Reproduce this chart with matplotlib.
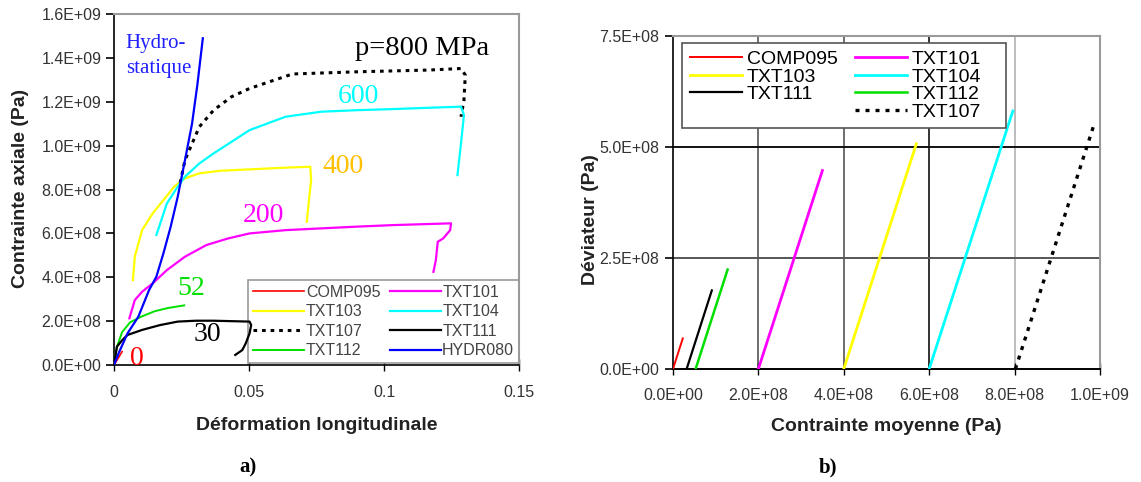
import numpy as np
import matplotlib
matplotlib.use('Agg')
import matplotlib.pyplot as plt
from matplotlib.lines import Line2D
from matplotlib.patches import Rectangle

plt.rcParams['font.family'] = ['Liberation Sans', 'DejaVu Sans']

# ---- (a) axial stress vs longitudinal strain
comp095_x = [0, 0.0015, 0.003]
comp095_y = [0, 3.0e7, 6.1e7]

txt111_x = [0, 0.0011, 0.0031, 0.005, 0.0104, 0.017, 0.0236, 0.0303, 0.0369, 0.0435, 0.0502, 0.0508, 0.0502, 0.0488, 0.0475, 0.0449]
txt111_y = [0, 8.4e7, 1.14e8, 1.37e8, 1.60e8, 1.82e8, 1.98e8, 2.02e8, 2.02e8, 2.00e8, 1.98e8, 1.82e8, 1.44e8, 9.9e7, 6.8e7, 4.6e7]

txt112_x = [0, 0.001, 0.003, 0.006, 0.010, 0.015, 0.020, 0.026]
txt112_y = [0, 8.0e7, 1.5e8, 1.95e8, 2.2e8, 2.45e8, 2.6e8, 2.72e8]

txt101_x = [0.0057, 0.0077, 0.0104, 0.0143, 0.0196, 0.0263, 0.0342, 0.0422, 0.0502, 0.0635, 0.0767, 0.0900, 0.1033, 0.1166, 0.1248, 0.1245, 0.1219, 0.1199, 0.1192, 0.1183]
txt101_y = [2.13e8, 2.96e8, 3.34e8, 3.72e8, 4.33e8, 4.94e8, 5.47e8, 5.77e8, 6.00e8, 6.15e8, 6.23e8, 6.31e8, 6.38e8, 6.43e8, 6.46e8, 6.15e8, 5.77e8, 5.62e8, 4.79e8, 4.25e8]

txt103_x = [0.0070, 0.0077, 0.0104, 0.0143, 0.0183, 0.0223, 0.0263, 0.0316, 0.0396, 0.0502, 0.0635, 0.0727, 0.0730, 0.0722, 0.0714]
txt103_y = [3.87e8, 4.94e8, 6.15e8, 6.91e8, 7.52e8, 8.13e8, 8.51e8, 8.74e8, 8.86e8, 8.92e8, 9.00e8, 9.04e8, 8.43e8, 7.52e8, 6.53e8]

txt104_x = [0.0157, 0.0196, 0.0236, 0.0263, 0.0316, 0.0369, 0.0502, 0.0635, 0.0767, 0.0900, 0.1033, 0.1166, 0.1285, 0.1296, 0.1285, 0.1272]
txt104_y = [5.93e8, 7.37e8, 8.13e8, 8.59e8, 9.19e8, 9.65e8, 1.071e9, 1.132e9, 1.155e9, 1.162e9, 1.167e9, 1.173e9, 1.178e9, 1.140e9, 1.010e9, 8.66e8]

# only the part of TXT107 that shows beside the hydrostatic curve
txt107_x = [0.0245, 0.0263, 0.0316, 0.0369, 0.0435, 0.0502, 0.0661, 0.0900, 0.1166, 0.1285, 0.1301, 0.1296, 0.1285]
txt107_y = [8.3e8, 9.35e8, 1.086e9, 1.162e9, 1.223e9, 1.261e9, 1.327e9, 1.337e9, 1.345e9, 1.352e9, 1.322e9, 1.208e9, 1.132e9]

hydr080_x = [0, 0.0017, 0.0050, 0.0090, 0.0130, 0.0157, 0.0183, 0.0210, 0.0236, 0.0263, 0.0289, 0.0309, 0.0329]
hydr080_y = [0, 5.3e7, 1.44e8, 2.2e8, 3.42e8, 4.03e8, 5.09e8, 6.31e8, 7.67e8, 9.35e8, 1.10e9, 1.28e9, 1.49e9]

# ---- (b) deviator vs mean stress (start and end of each loading path)
b_comp095_x = [0, 2.3e7]
b_comp095_y = [0, 6.9e7]
b_txt111_x = [3.2e7, 9.1e7]
b_txt111_y = [0, 1.77e8]
b_txt112_x = [5.3e7, 1.28e8]
b_txt112_y = [0, 2.24e8]
b_txt101_x = [2.0e8, 3.5e8]
b_txt101_y = [0, 4.47e8]
b_txt103_x = [4.0e8, 5.7e8]
b_txt103_y = [0, 5.07e8]
b_txt104_x = [6.0e8, 7.96e8]
b_txt104_y = [0, 5.81e8]
b_txt107_x = [8.02e8, 9.85e8]
b_txt107_y = [0, 5.47e8]

RED, MAG, YEL, CYA, GRN, BLU = '#ff0000', '#ff00ff', '#ffff00', '#00ffff', '#00e000', '#0000ff'
tick_col = '#333333'
serif = ['Liberation Serif', 'DejaVu Serif']

fig = plt.figure(figsize=(11.41, 4.82), dpi=100)

# ================= (a)
ax1 = fig.add_axes([0.0999, 0.2427, 0.355, 0.728])
ax1.plot(comp095_x, comp095_y, color=RED, lw=1.2, label='COMP095', zorder=3)
ax1.plot(txt103_x, txt103_y, color=YEL, lw=1.6, label='TXT103', zorder=3)
ax1.plot(txt107_x, txt107_y, color='black', lw=2.2, ls=(0, (1.2, 1.6)), label='TXT107', zorder=3)
ax1.plot(txt112_x, txt112_y, color=GRN, lw=1.4, label='TXT112', zorder=3)
ax1.plot(txt101_x, txt101_y, color=MAG, lw=1.6, label='TXT101', zorder=3)
ax1.plot(txt104_x, txt104_y, color=CYA, lw=1.6, label='TXT104', zorder=3)
ax1.plot(txt111_x, txt111_y, color='black', lw=1.6, label='TXT111', zorder=3)
ax1.plot(hydr080_x, hydr080_y, color=BLU, lw=1.6, label='HYDR080', zorder=3)

ax1.set_xlim(0, 0.15)
ax1.set_ylim(0, 1.6e9)
ax1.set_xticks([0, 0.05, 0.1, 0.15])
ax1.set_xticklabels(['0', '0.05', '0.1', '0.15'])
yt = np.arange(0, 1.61e9, 2e8)
ax1.set_yticks(yt)
ax1.set_yticklabels(['{:.1E}'.format(v) for v in yt])
ax1.tick_params(axis='y', direction='out', length=6, width=1.2, pad=3, labelsize=11.5, labelcolor=tick_col)
ax1.tick_params(axis='x', direction='inout', length=9, width=1.0, pad=10, labelsize=11.5, labelcolor=tick_col)
for s in ['top', 'right']:
    ax1.spines[s].set_color('#9a9a9a')
    ax1.spines[s].set_linewidth(1.5)
ax1.spines['left'].set_linewidth(1.2)
ax1.spines['bottom'].set_linewidth(1.2)

ax1.set_xlabel('Déformation longitudinale', fontsize=14, fontweight='bold', color='#222222', va='center')
ax1.xaxis.set_label_coords(0.5, -0.171)
ax1.set_ylabel('Contrainte axiale (Pa)', fontsize=14, fontweight='bold', color='#222222', va='center')
ax1.yaxis.set_label_coords(-0.232, 0.504)

ax1.text(0.0044, 1.466e9, 'Hydro-', color='#2020ff', fontsize=15, family=serif, va='center')
ax1.text(0.0044, 1.352e9, 'statique', color='#2020ff', fontsize=15, family=serif, va='center')
ax1.text(0.0893, 1.443e9, 'p=800 MPa', color='black', fontsize=20.5, family=serif, va='center')
ax1.text(0.0827, 1.223e9, '600', color=CYA, fontsize=20, family=serif, va='center')
ax1.text(0.0774, 9.04e8, '400', color='#ffc000', fontsize=20, family=serif, va='center')
ax1.text(0.0475, 6.84e8, '200', color=MAG, fontsize=20, family=serif, va='center')
ax1.text(0.0236, 3.49e8, '52', color=GRN, fontsize=20, family=serif, va='center')
ax1.text(0.0296, 1.37e8, '30', color='black', fontsize=20, family=serif, va='center')
ax1.text(0.0061, 3.0e7, '0', color=RED, fontsize=20, family=serif, va='center')

leg1 = ax1.legend(ncol=2, loc='lower left', bbox_to_anchor=(0.332, 0.006, 0.668, 0.245), mode='expand',
                  fontsize=11.5, handlelength=3.2, labelspacing=0.28, borderpad=0.3, handletextpad=0.1,
                  columnspacing=0.5, fancybox=False, framealpha=1, borderaxespad=0)
leg1.get_frame().set_edgecolor('#9a9a9a')
leg1.get_frame().set_linewidth(1.2)
leg1.set_zorder(2)
for t in leg1.get_texts():
    t.set_color('#444444')

# ================= (b)
ax2 = fig.add_axes([0.5898, 0.2344, 0.3742, 0.691])
ax2.set_xlim(0, 1.0e9)
ax2.set_ylim(0, 7.5e8)
for xv, c in [(2e8, '#555555'), (4e8, '#555555'), (6e8, '#111111'), (8e8, '#b0b0b0')]:
    ax2.axvline(xv, color=c, lw=1.2, zorder=1)
for yv, c in [(2.5e8, '#555555'), (5e8, '#111111')]:
    ax2.axhline(yv, color=c, lw=1.4, zorder=1)

h_red, = ax2.plot(b_comp095_x, b_comp095_y, color=RED, lw=1.4, label='COMP095', zorder=3)
h_yel, = ax2.plot(b_txt103_x, b_txt103_y, color=YEL, lw=2.0, label='TXT103', zorder=3)
h_blk, = ax2.plot(b_txt111_x, b_txt111_y, color='black', lw=1.6, label='TXT111', zorder=3)
h_mag, = ax2.plot(b_txt101_x, b_txt101_y, color=MAG, lw=2.0, label='TXT101', zorder=3)
h_cya, = ax2.plot(b_txt104_x, b_txt104_y, color=CYA, lw=2.0, label='TXT104', zorder=3)
h_grn, = ax2.plot(b_txt112_x, b_txt112_y, color=GRN, lw=1.8, label='TXT112', zorder=3)
h_dot, = ax2.plot(b_txt107_x, b_txt107_y, color='black', lw=2.4, ls=(0, (1.2, 1.8)), label='TXT107', zorder=3)
blank = Line2D([], [], alpha=0)

xt = np.arange(0, 1.01e9, 2e8)
ax2.set_xticks(xt)
ax2.set_xticklabels(['{:.1E}'.format(v) for v in xt])
yt2 = [0, 2.5e8, 5e8, 7.5e8]
ax2.set_yticks(yt2)
ax2.set_yticklabels(['{:.1E}'.format(v) for v in yt2])
ax2.tick_params(axis='y', direction='out', length=6, width=1.2, pad=4, labelsize=11.5, labelcolor=tick_col)
ax2.tick_params(axis='x', direction='inout', length=9, width=1.0, pad=9, labelsize=11.5, labelcolor=tick_col)
for s in ['top', 'right']:
    ax2.spines[s].set_color('#9a9a9a')
    ax2.spines[s].set_linewidth(1.5)
ax2.spines['left'].set_linewidth(1.2)
ax2.spines['bottom'].set_linewidth(1.4)

ax2.set_xlabel('Contrainte moyenne (Pa)', fontsize=14, fontweight='bold', color='#222222', va='center')
ax2.xaxis.set_label_coords(0.5, -0.174)
ax2.set_ylabel('Déviateur (Pa)', fontsize=14, fontweight='bold', color='#222222', va='center')
ax2.yaxis.set_label_coords(-0.192, 0.45)

# legend frame drawn separately so the box can be wider than its entries
ax2.add_patch(Rectangle((0.021, 0.723), 0.759, 0.257, transform=ax2.transAxes, facecolor='white',
                        edgecolor='#555555', lw=1.2, zorder=4))
leg2 = ax2.legend([h_red, h_yel, h_blk, blank, h_mag, h_cya, h_grn, h_dot],
                  ['COMP095', 'TXT103', 'TXT111', '', 'TXT101', 'TXT104', 'TXT112', 'TXT107'],
                  ncol=2, loc='upper left', bbox_to_anchor=(0.041, 0.957),
                  fontsize=14, handlelength=2.65, labelspacing=0.0, borderpad=0.0, handletextpad=0.25,
                  columnspacing=0.9, frameon=False, borderaxespad=0)
leg2.set_zorder(5)

fig.text(248 / 1141, 1 - 467 / 482, 'a)', fontsize=15, fontweight='bold', family=serif, ha='center', va='center')
fig.text(828 / 1141, 1 - 467 / 482, 'b)', fontsize=15, fontweight='bold', family=serif, ha='center', va='center')

fig.savefig('out.png', dpi=100)
